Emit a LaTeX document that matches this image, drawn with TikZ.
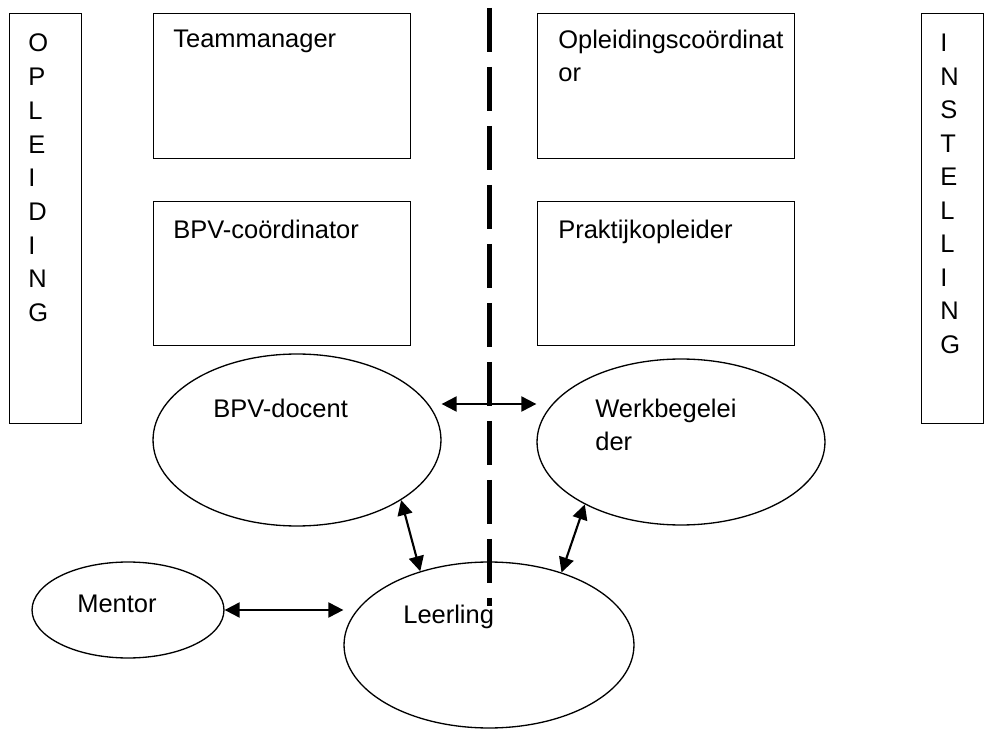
\documentclass[tikz,border=0pt]{standalone}
\usepackage{fontspec}
\setmainfont{Liberation Sans}
\usetikzlibrary{arrows.meta,shapes.geometric}

\begin{document}
\begin{tikzpicture}[x=0.02cm,y=-0.02cm,font=\fontsize{14.5}{19.1}\selectfont,box/.style={draw,line width=.75pt,anchor=north west,inner sep=0pt},oval/.style={draw,ellipse,line width=.75pt,inner sep=0pt},txt/.style={anchor=base west,inner sep=0pt,align=left},dbl/.style={{Triangle[length=.3cm,width=.3cm]}-{Triangle[length=.3cm,width=.3cm]},line width=1.2pt},divider/.style={line width=.1cm,dash pattern=on .88cm off .3cm}]
 \useasboundingbox (0,0) rectangle (984,729);
 % side columns
 \node[box,minimum width=1.44cm,minimum height=8.2cm] (opl) at (9,13) {};
 \node[box,minimum width=1.24cm,minimum height=8.2cm] (inst) at (921,13) {};
 \foreach \c [count=\i] in {O,P,L,E,I,D,I,N,G} \node[txt] at (28,{52+33.7*(\i-1)}) {\c};
 \foreach \c [count=\i] in {I,N,S,T,E,L,L,I,N,G} \node[txt] at (940,{52+33.5*(\i-1)}) {\c};
 % functions
 \node[box,minimum width=5.14cm,minimum height=2.9cm] (tm) at (153,13) {};
 \node[box,minimum width=5.14cm,minimum height=2.9cm] (oc) at (537,13) {};
 \node[box,minimum width=5.14cm,minimum height=2.88cm] (bpvc) at (153,201) {};
 \node[box,minimum width=5.14cm,minimum height=2.88cm] (po) at (537,201) {};
 \node[txt] (tm-t) at (173,48) {Teammanager};
 \node[txt] (oc-t) at (558,82) {Opleidingscoördinat\\or};
 \node[txt] (bpvc-t) at (173,239) {BPV-coördinator};
 \node[txt] (po-t) at (558,239) {Praktijkopleider};
 % persons
 \node[oval,minimum width=5.76cm,minimum height=3.44cm] (bpvd) at (297,440) {};
 \node[oval,minimum width=5.76cm,minimum height=3.32cm] (wb) at (681,442) {};
 \node[oval,minimum width=3.84cm,minimum height=1.92cm] (mentor) at (128,610) {};
 \node[oval,minimum width=5.8cm,minimum height=3.32cm] (ll) at (489,645) {};
 \node[txt] (bpvd-t) at (213,418) {BPV-docent};
 \node[txt] (wb-t) at (595,451) {Werkbegelei\\der};
 \node[txt] (mentor-t) at (77,612) {Mentor};
 \node[txt] (ll-t) at (403,623) {Leerling};
 % links
 \draw[dbl] ([yshift=.72cm]bpvd.east) -- ([yshift=.72cm]bpvd.east -| wb.west);
 \draw[dbl] (bpvd.-30) -- (ll.133);
 \draw[dbl] (wb.213) -- (ll.45);
 \draw[dbl] (mentor.east) -- (mentor.east -| ll.west);
 % boundary
 \coordinate (dtop) at (489,8);
 \coordinate (dbot) at (489,606);
 \draw[divider] (dtop) -- (dbot);
\end{tikzpicture}
\end{document}
